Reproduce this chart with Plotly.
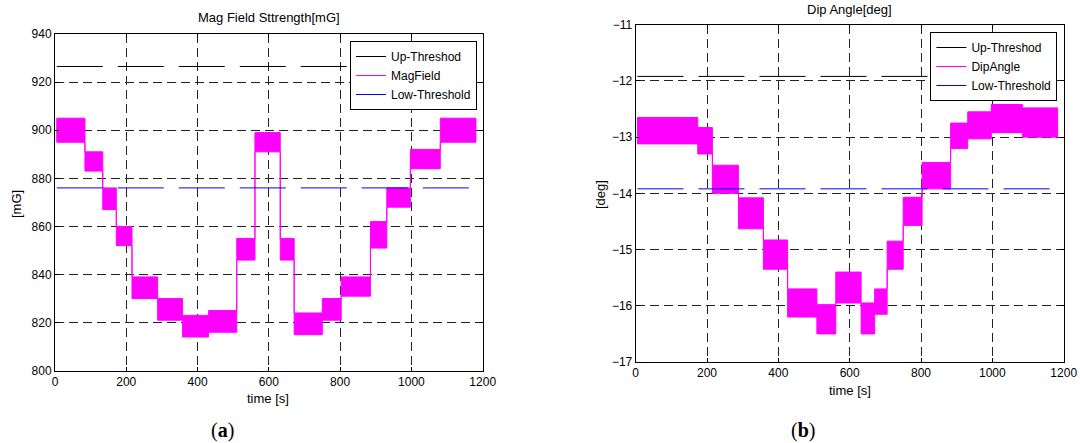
import plotly.graph_objects as go

# ---------------- data ----------------
time_ticks = [0, 200, 400, 600, 800, 1000, 1200]

# Magnetic field strength [mG]: step segments (boundaries in s) with noise band low/high
mag_edges = [5, 84, 134, 172, 216, 288, 358, 431, 510, 561, 632, 671, 750, 803, 885, 931, 997, 1081, 1181]
mag_low = [895, 883, 867, 852, 830, 821, 814, 816, 846, 891, 846, 815, 821, 831, 851, 868, 884, 895]
mag_high = [905, 891, 876, 860, 839, 830, 823, 825, 855, 899, 855, 824, 830, 839, 862, 876, 892, 905]
mag_up_threshold = 926.5
mag_low_threshold = 876.0
mag_ticks = [800, 820, 840, 860, 880, 900, 920, 940]

# Dip angle [deg]
dip_edges = [5, 174, 215, 288, 358, 426, 508, 561, 632, 670, 705, 750, 803, 883, 931, 997, 1084, 1183]
dip_low = [-13.12, -13.30, -14.00, -14.63, -15.35, -16.20, -16.50, -15.95, -16.50, -16.15, -15.35, -14.57, -13.92, -13.20, -13.03, -12.92, -13.00]
dip_high = [-12.65, -12.83, -13.50, -14.08, -14.83, -15.70, -15.98, -15.40, -15.95, -15.70, -14.85, -14.07, -13.45, -12.75, -12.55, -12.42, -12.48]
dip_up_threshold = -11.92
dip_low_threshold = -13.92
dip_ticks = [-17, -16, -15, -14, -13, -12, -11]

threshold_span = [5, 1181]

# ---------------- layout geometry (pixels -> paper) ----------------
W, H = 1080, 443
FONT = "Liberation Sans, Arial, sans-serif"


def px_x(p):
    return p / W


def px_y(p):
    return 1 - p / H


def band_polygon(edges, lo, hi):
    xs, ys = [], []
    for i in range(len(lo)):
        xs += [edges[i], edges[i + 1]]
        ys += [hi[i], hi[i]]
    for i in reversed(range(len(lo))):
        xs += [edges[i + 1], edges[i]]
        ys += [lo[i], lo[i]]
    xs.append(xs[0])
    ys.append(ys[0])
    return xs, ys


fig = go.Figure()

panels = [
    dict(xa="x", ya="y", leg="legend", edges=mag_edges, lo=mag_low, hi=mag_high,
         up=mag_up_threshold, low=mag_low_threshold, name="MagField"),
    dict(xa="x2", ya="y2", leg="legend2", edges=dip_edges, lo=dip_low, hi=dip_high,
         up=dip_up_threshold, low=dip_low_threshold, name="DipAngle"),
]

DASH = "46px,15px"
for p in panels:
    fig.add_trace(go.Scatter(
        x=threshold_span, y=[p["up"], p["up"]], mode="lines", name="Up-Threshod",
        line=dict(color="black", width=1, dash=DASH), xaxis=p["xa"], yaxis=p["ya"],
        legend=p["leg"], hoverinfo="skip"))
    bx, by = band_polygon(p["edges"], p["lo"], p["hi"])
    fig.add_trace(go.Scatter(
        x=bx, y=by, mode="lines", fill="toself", fillcolor="#FF00FF",
        line=dict(color="#FF00FF", width=1), showlegend=False,
        xaxis=p["xa"], yaxis=p["ya"], hoverinfo="skip"))
    # legend entry for the signal (line sample)
    fig.add_trace(go.Scatter(
        x=[None], y=[None], mode="lines", name=p["name"],
        line=dict(color="#FF00FF", width=1), xaxis=p["xa"], yaxis=p["ya"],
        legend=p["leg"]))
    fig.add_trace(go.Scatter(
        x=threshold_span, y=[p["low"], p["low"]], mode="lines", name="Low-Threshold",
        line=dict(color="#0000FF", width=1, dash=DASH), xaxis=p["xa"], yaxis=p["ya"],
        legend=p["leg"], hoverinfo="skip"))

axis_common = dict(
    showline=True, linecolor="black", linewidth=1, mirror="ticks",
    ticks="inside", ticklen=4, tickwidth=1, tickcolor="black",
    showgrid=True, gridcolor="#222222", gridwidth=1, griddash="9px,5px",
    zeroline=False, tickfont=dict(family=FONT, size=12, color="black"),
    automargin=False,
)

fig.update_layout(
    width=W, height=H,
    margin=dict(l=0, r=0, t=0, b=0),
    paper_bgcolor="white", plot_bgcolor="white",
    font=dict(family=FONT, size=12, color="black"),
    xaxis=dict(domain=[px_x(55), px_x(482.7)], range=[0, 1200], tickvals=time_ticks,
               anchor="y", **axis_common),
    yaxis=dict(domain=[px_y(370.7), px_y(34)], range=[800, 940], tickvals=mag_ticks,
               anchor="x", **axis_common),
    xaxis2=dict(domain=[px_x(635.7), px_x(1063.7)], range=[0, 1200], tickvals=time_ticks,
                anchor="y2", **axis_common),
    yaxis2=dict(domain=[px_y(362), px_y(24.7)], range=[-17, -11], tickvals=dip_ticks,
                anchor="x2", **axis_common),
    legend=dict(x=px_x(477), y=px_y(41), xanchor="right", yanchor="top",
                bgcolor="white", bordercolor="black", borderwidth=1,
                font=dict(family=FONT, size=12, color="black"), tracegroupgap=0),
    legend2=dict(x=px_x(1057.4), y=px_y(32), xanchor="right", yanchor="top",
                 bgcolor="white", bordercolor="black", borderwidth=1,
                 font=dict(family=FONT, size=12, color="black"), tracegroupgap=0),
    showlegend=True,
)

ann = [
    dict(text="Mag Field Sttrength[mG]", x=px_x(269), y=px_y(18), size=13, fam=FONT, angle=0),
    dict(text="Dip Angle[deg]", x=px_x(849.7), y=px_y(10), size=13, fam=FONT, angle=0),
    dict(text="time [s]", x=px_x(268), y=px_y(398), size=13, fam=FONT, angle=0),
    dict(text="time [s]", x=px_x(849.7), y=px_y(390), size=13, fam=FONT, angle=0),
    dict(text="[mG]", x=px_x(16), y=px_y(204), size=13, fam=FONT, angle=-90),
    dict(text="[deg]", x=px_x(600), y=px_y(195), size=13, fam=FONT, angle=-90),
    dict(text="(<b>a</b>)", x=px_x(222), y=px_y(430), size=20,
         fam="Liberation Serif, DejaVu Serif, serif", angle=0),
    dict(text="(<b>b</b>)", x=px_x(803), y=px_y(430), size=20,
         fam="Liberation Serif, DejaVu Serif, serif", angle=0),
]
for a in ann:
    fig.add_annotation(text=a["text"], x=a["x"], y=a["y"], xref="paper", yref="paper",
                       xanchor="center", yanchor="middle", showarrow=False,
                       textangle=a["angle"],
                       font=dict(family=a["fam"], size=a["size"], color="black"))

fig.write_html("out.html")
